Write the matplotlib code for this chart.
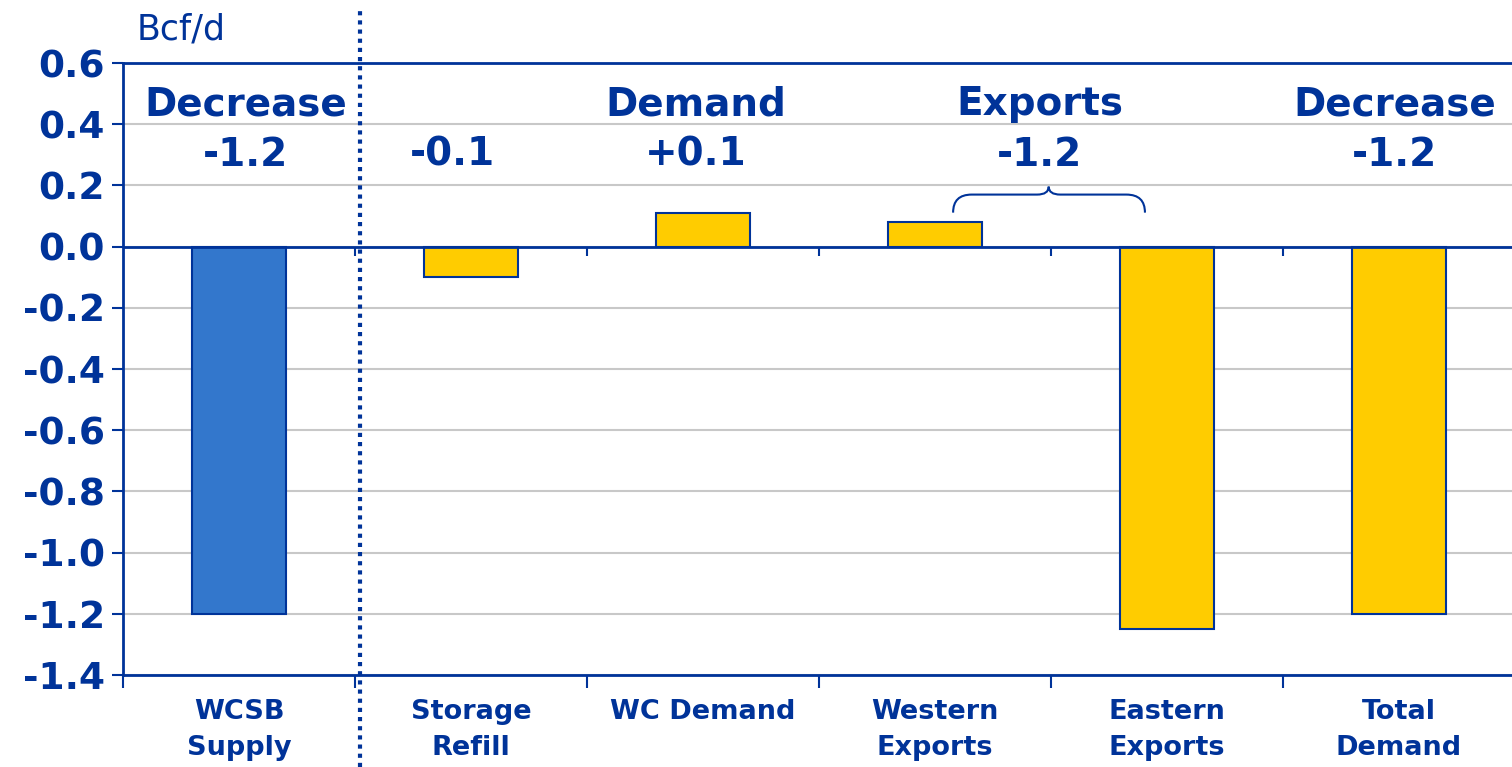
import numpy as np
import matplotlib
matplotlib.use("Agg")
import matplotlib.pyplot as plt
from matplotlib.path import Path
from matplotlib.patches import PathPatch

# Change in gas balance, Bcf/d
categories = ["WCSB\nSupply", "Storage\nRefill", "WC Demand", "Western\nExports",
              "Eastern\nExports", "Total\nDemand"]
values = [-1.20, -0.10, 0.11, 0.08, -1.25, -1.20]
bar_colors = ["#3377CC", "#FFCC00", "#FFCC00", "#FFCC00", "#FFCC00", "#FFCC00"]

# headline labels above the bars: (x in category units, heading, total)
headings = ["Decrease", "", "Demand", "Exports", "Decrease"]
totals = ["-1.2", "-0.1", "+0.1", "-1.2", "-1.2"]
heading_x = [0.03, 0.92, 1.97, 3.45, 4.98]

yticks = np.round(np.arange(-1.4, 0.61, 0.2), 1)

BLUE = "#003399"
plt.rcParams["font.family"] = ["DejaVu Sans"]

fig = plt.figure(figsize=(15.12, 7.67), dpi=100)
ax = fig.add_axes([123 / 1512, 92 / 767, 1392 / 1512, 612 / 767])

x = np.arange(len(categories))
ax.bar(x, values, width=0.405, color=bar_colors, edgecolor=BLUE, linewidth=1.5, zorder=3)

ax.set_xlim(-0.5, len(categories) - 0.5)
ax.set_ylim(-1.4, 0.6)
ax.set_yticks(yticks)
ax.set_yticklabels([f"{v + 0:.1f}" for v in yticks], fontsize=27, fontweight="bold", color=BLUE)
ax.yaxis.grid(True, color="#C8C8C8", lw=1.5, zorder=0)

ax.set_xticks(x)
ax.set_xticklabels(categories, fontsize=19.5, fontweight="bold", color=BLUE, linespacing=1.5)
ax.set_xticks(np.arange(-0.5, len(categories)), minor=True)
ax.tick_params(axis="x", which="major", length=0, pad=17)
ax.tick_params(axis="x", which="minor", length=9, width=1.5, color=BLUE, direction="out")
ax.tick_params(axis="y", length=8, width=1.5, color=BLUE, direction="out", pad=5)

for side in ["left", "bottom", "top"]:
    ax.spines[side].set_color(BLUE)
    ax.spines[side].set_linewidth(2)
ax.spines["right"].set_visible(False)

# zero line with its own category ticks
ax.axhline(0, color=BLUE, lw=2, zorder=4)
ax.vlines(np.arange(0.5, len(categories) - 0.5), -0.03, 0, color=BLUE, lw=1.5, zorder=4)

# dotted separator between supply and demand
ax.plot([0.52, 0.52], [-1.7, 0.77], color=BLUE, lw=3, ls=(0, (1, 1.2)),
        clip_on=False, zorder=5)

ax.text(-0.44, 0.71, "Bcf/d", fontsize=25, color=BLUE, ha="left", va="center")

for hx, head, tot in zip(heading_x, headings, totals):
    if head:
        ax.text(hx, 0.465, head, fontsize=28, fontweight="bold", color=BLUE,
                ha="center", va="center", zorder=6)
    ax.text(hx, 0.30, tot, fontsize=28, fontweight="bold", color=BLUE,
            ha="center", va="center", zorder=6)

# curly brace grouping the two export bars
bx0, bx1, bmid = 3.078, 3.905, 3.49
ytip, yarm, yend = 0.196, 0.17, 0.111
rx, tx = 0.08, 0.05
verts = [(bx0, yend), (bx0, yarm), (bx0 + rx, yarm),
         (bmid - tx, yarm), (bmid, yarm), (bmid, ytip),
         (bmid, yarm), (bmid + tx, yarm),
         (bx1 - rx, yarm), (bx1, yarm), (bx1, yend)]
codes = [Path.MOVETO, Path.CURVE3, Path.CURVE3,
         Path.LINETO, Path.CURVE3, Path.CURVE3,
         Path.CURVE3, Path.CURVE3,
         Path.LINETO, Path.CURVE3, Path.CURVE3]
ax.add_patch(PathPatch(Path(verts, codes), fill=False, edgecolor=BLUE, lw=1.5,
                       zorder=6, clip_on=False))

fig.savefig("out.png", dpi=100)
